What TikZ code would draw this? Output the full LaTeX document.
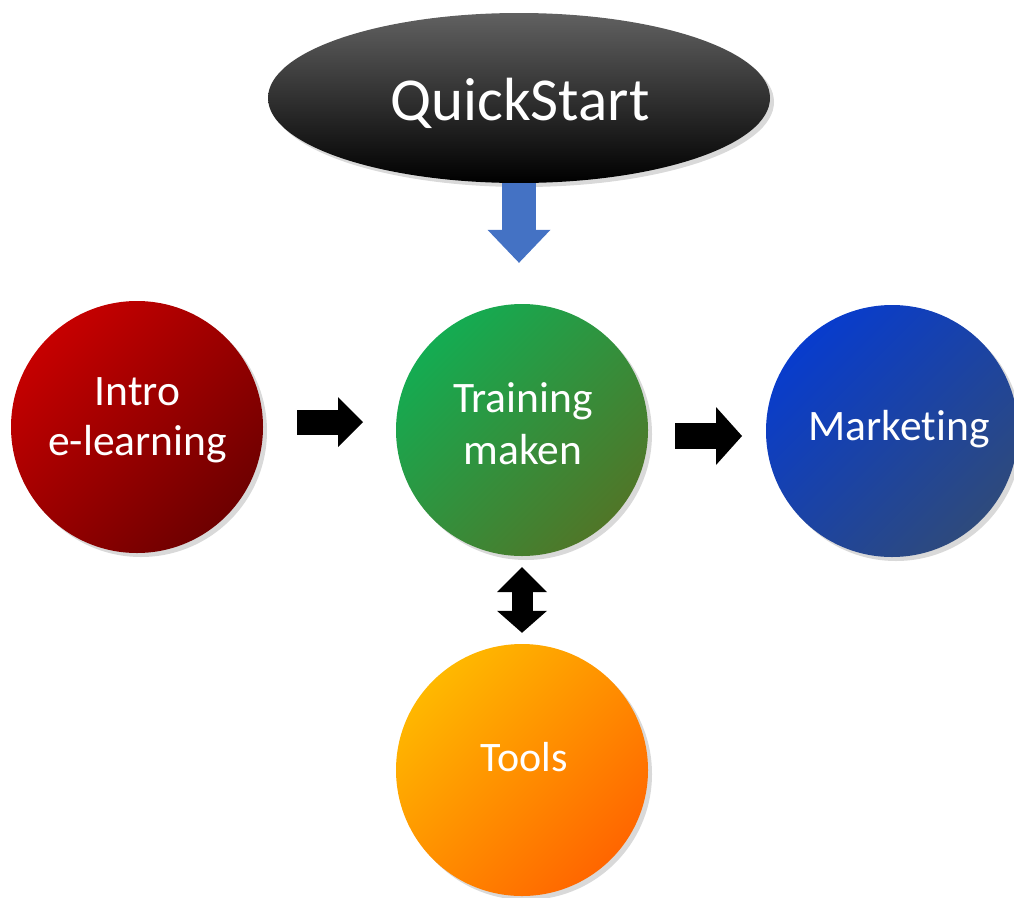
\documentclass[tikz,border=0pt]{standalone}
\usepackage{fontspec}
\setmainfont{Carlito}[Ligatures=NoCommon]
\usetikzlibrary{shapes.geometric,arrows.meta,shadows}
\definecolor{redA}{RGB}{198,0,0}
\definecolor{redB}{RGB}{110,0,0}
\definecolor{greenA}{RGB}{20,172,82}
\definecolor{greenB}{RGB}{80,118,40}
\definecolor{blueA}{RGB}{8,60,205}
\definecolor{blueB}{RGB}{46,74,124}
\definecolor{orangeA}{RGB}{255,184,0}
\definecolor{orangeB}{RGB}{255,102,0}
\definecolor{arrowblue}{RGB}{68,114,196}
\tikzset{
  bubble/.style={circle, minimum size=252pt, inner sep=0pt, shading angle=45,
    drop shadow={opacity=0.3, shadow xshift=4pt, shadow yshift=-4pt}},
  lbl/.style={anchor=base, inner sep=0pt, text=white,
    font=\fontsize{43.5}{50}\selectfont},
  blockarrow/.style={line width=25pt, black,
    -{Triangle[width=50pt,length=25pt,line width=0pt]}},
  dblarrow/.style={line width=21pt, black,
    {Triangle[width=50pt,length=25pt,line width=0pt]}-{Triangle[width=50pt,length=22pt,line width=0pt]}},
  bluearrow/.style={line width=34pt, arrowblue,
    -{Triangle[width=63pt,length=33pt,line width=0pt]}}
}
\begin{document}
\begin{tikzpicture}[x=1pt,y=-1pt]
\useasboundingbox (0,0) rectangle (1014,897);
\node[ellipse, minimum width=502pt, minimum height=170pt, inner sep=0pt,
  top color=black!62, middle color=black, bottom color=black,
  drop shadow={opacity=0.3, shadow xshift=4pt, shadow yshift=-4pt}]
  (qs) at (519,98) {};
\node[lbl, font=\fontsize{61}{70}\selectfont] (qsT) at (520,120) {QuickStart};
\node[bubble, top color=redA, bottom color=redB, shading angle=45] (intro) at (137,427) {};
\node[bubble, top color=greenA, bottom color=greenB, shading angle=45] (train) at (522,430) {};
\node[bubble, top color=blueA, bottom color=blueB, shading angle=45] (mark) at (892,431) {};
\node[bubble, top color=orangeA, bottom color=orangeB, shading angle=45] (tools) at (522,770) {};
\node[lbl] (introT1) at (137.5,405) {Intro};
\node[lbl] (introT2) at (137.5,455) {e-learning};
\node[lbl] (trainT1) at (523,412) {Training};
\node[lbl] (trainT2) at (523,464) {maken};
\node[lbl] (markT) at (899,440) {Marketing};
\node[lbl, font=\fontsize{42}{50}\selectfont] (toolsT) at (524.5,771) {Tools};
\coordinate (a1s) at (297,422);
\coordinate (a1e) at (363,422);
\coordinate (a2s) at (675,436);
\coordinate (a2e) at (742,436);
\draw[blockarrow] (a1s) -- (a1e);
\draw[blockarrow, line width=26pt, -{Triangle[width=58pt,length=26pt,line width=0pt]}] (a2s) -- (a2e);
\draw[dblarrow, shorten <=11pt, shorten >=11pt] (train.south) -- (tools.north);
\draw[bluearrow, shorten >=41pt] (qs.south) -- (qs.south |- train.north);
\end{tikzpicture}
\end{document}
